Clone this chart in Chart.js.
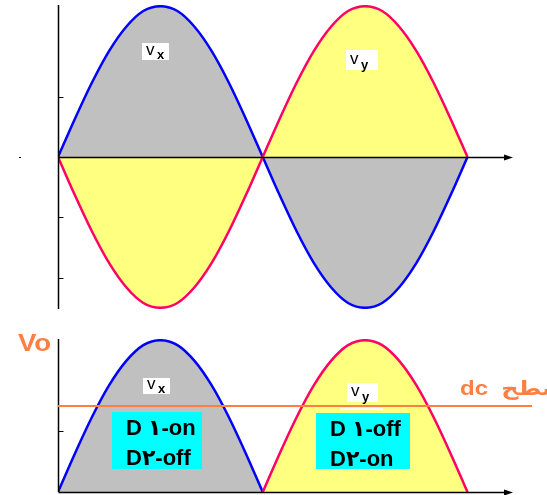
<!DOCTYPE html>
<html>
<head>
<meta charset="utf-8">
<script src="https://cdn.jsdelivr.net/npm/chart.js@4.4.0/dist/chart.umd.min.js"></script>
<style>
    html, body { margin: 0; padding: 0; background: #fff; }
    #wrap { position: relative; width: 547px; height: 495px; overflow: hidden; }
    #topBox { position: absolute; left: 0; top: 0; }
    #botBox { position: absolute; left: 0; top: 320px; }
</style>
</head>
<body>
<div id="wrap">
    <div id="topBox"><canvas id="topChart" width="547" height="320"></canvas></div>
    <div id="botBox"><canvas id="botChart" width="547" height="175"></canvas></div>
</div>
<script>
// Phase angle (degrees) of each sample
const angles = [0, 15, 30, 45, 60, 75, 90, 105, 120, 135, 150, 165, 180,
                195, 210, 225, 240, 255, 270, 285, 300, 315, 330, 345, 360];

// Top panel: secondary half-voltages
const vx = [0, 0.64, 1.24, 1.76, 2.16, 2.42, 2.5, 2.42, 2.16, 1.76, 1.24, 0.64, 0,
            -0.64, -1.24, -1.76, -2.16, -2.42, -2.5, -2.42, -2.16, -1.76, -1.24, -0.64, 0];
const vy = [0, -0.64, -1.24, -1.76, -2.16, -2.42, -2.5, -2.42, -2.16, -1.76, -1.24, -0.64, 0,
            0.64, 1.24, 1.76, 2.16, 2.42, 2.5, 2.42, 2.16, 1.76, 1.24, 0.64, 0];

// Bottom panel: output voltage, D1 conducting then D2 conducting
const voD1 = [0, 0.64, 1.24, 1.76, 2.16, 2.42, 2.5, 2.42, 2.16, 1.76, 1.24, 0.64, 0,
              null, null, null, null, null, null, null, null, null, null, null, null];
const voD2 = [null, null, null, null, null, null, null, null, null, null, null, null, 0,
              0.64, 1.24, 1.76, 2.16, 2.42, 2.5, 2.42, 2.16, 1.76, 1.24, 0.64, 0];

const dcLevel = 1.42;
const topTicks = [-2, -1, 1];
const botTicks = [1];

const BLUE = '#0000ff';
const PINK = '#ff0066';
const GRAY = '#c0c0c0';
const YELLOW = '#ffff80';
const CYAN = '#00ffff';
const ORANGE = '#ff7f40';
const BOT_OFFSET = 320;

function toPoints(values) {
    return angles.map((a, i) => ({ x: a, y: values[i] }));
}

function curve(label, values, line, fillColor) {
    return {
        label: label,
        data: toPoints(values),
        borderColor: line,
        backgroundColor: fillColor,
        borderWidth: 2.5,
        pointRadius: 0,
        cubicInterpolationMode: 'monotone',
        fill: { target: 'origin' }
    };
}

// white label box with "v" and a subscript letter
function subLabel(ctx, box, sub) {
    ctx.fillStyle = '#fff';
    ctx.fillRect(box[0], box[1], box[2], box[3]);
    ctx.fillStyle = '#000';
    ctx.textBaseline = 'alphabetic';
    ctx.textAlign = 'left';
    ctx.font = '17px "Liberation Sans", Arial, sans-serif';
    ctx.fillText('v', box[0] + 4, box[1] + box[3] * 0.7);
    ctx.font = 'bold 13px "Liberation Sans", Arial, sans-serif';
    ctx.fillText(sub, box[0] + 15, box[1] + box[3] - 1);
}

// stretched bold text (the original lettering is wider than Arial)
function wideText(ctx, text, x, y, font, stretch) {
    ctx.save();
    ctx.font = font;
    ctx.translate(x, y);
    ctx.scale(stretch, 1);
    ctx.fillText(text, 0, 0);
    ctx.restore();
}

function axesPlugin(ticks) {
    return {
        id: 'axesDecor',
        afterDatasetsDraw(chart) {
            const ctx = chart.ctx;
            const area = chart.chartArea;
            const xs = chart.scales.x;
            const ys = chart.scales.y;
            const x0 = Math.round(xs.getPixelForValue(0)) + 0.5;
            const y0 = Math.round(ys.getPixelForValue(0)) + 0.5;
            const xEnd = area.right;
            ctx.save();
            ctx.strokeStyle = '#000';
            ctx.fillStyle = '#000';
            ctx.lineWidth = 1.5;
            ctx.beginPath();
            ctx.moveTo(x0, area.top);
            ctx.lineTo(x0, Math.min(area.bottom, chart.height));
            ctx.stroke();
            ctx.beginPath();
            ctx.moveTo(x0, y0);
            ctx.lineTo(xEnd - 4, y0);
            ctx.stroke();
            ctx.beginPath();
            ctx.moveTo(xEnd, y0);
            ctx.lineTo(xEnd - 9, y0 - 3);
            ctx.lineTo(xEnd - 9, y0 + 3);
            ctx.closePath();
            ctx.fill();
            ctx.lineWidth = 1;
            ticks.forEach(v => {
                const y = Math.round(ys.getPixelForValue(v)) + 0.5;
                ctx.beginPath();
                ctx.moveTo(x0, y);
                ctx.lineTo(x0 + 5, y);
                ctx.stroke();
            });
            ctx.restore();
        }
    };
}

const topLabels = {
    id: 'topLabels',
    afterDraw(chart) {
        const ctx = chart.ctx;
        ctx.save();
        subLabel(ctx, [142, 43, 27, 17], 'x');
        subLabel(ctx, [346, 50, 32, 20], 'y');
        ctx.fillStyle = '#000';
        ctx.fillRect(19, 157, 2, 1);
        ctx.restore();
    }
};

const botLabels = {
    id: 'botLabels',
    afterDraw(chart) {
        const ctx = chart.ctx;
        const ys = chart.scales.y;
        const off = BOT_OFFSET;
        ctx.save();
        // dc level line
        const yd = Math.round(ys.getPixelForValue(dcLevel));
        ctx.strokeStyle = ORANGE;
        ctx.lineWidth = 2;
        ctx.beginPath();
        ctx.moveTo(58, yd);
        ctx.lineTo(532, yd);
        ctx.stroke();

        ctx.fillStyle = ORANGE;
        ctx.textAlign = 'left';
        ctx.textBaseline = 'alphabetic';
        wideText(ctx, 'Vo', 18, 351 - off, 'bold 23px "Liberation Sans", Arial, sans-serif', 1.2);
        wideText(ctx, 'dc  سطح', 460, 395 - off, 'bold 20px "Liberation Sans", "DejaVu Sans", sans-serif', 1.2);

        subLabel(ctx, [143, 378 - off, 27, 16], 'x');
        subLabel(ctx, [347, 383 - off, 31, 19], 'y');
        ctx.fillStyle = '#fff';
        ctx.fillRect(340, 408 - off, 43, 2);

        // diode state boxes
        ctx.fillStyle = CYAN;
        ctx.fillRect(112, 412 - off, 90, 57);
        ctx.fillRect(316, 413 - off, 94, 56);
        ctx.fillStyle = '#000';
        ctx.font = 'bold 22px "Liberation Sans", "DejaVu Sans", sans-serif';
        ctx.fillText('D ١-on', 126, 435 - off);
        ctx.fillText('D٢-off', 126, 465 - off);
        ctx.fillText('D ١-off', 330, 436 - off);
        ctx.fillText('D٢-on', 330, 466 - off);
        ctx.restore();
    }
};

const topChart = new Chart(document.getElementById('topChart'), {
    type: 'line',
    data: {
        datasets: [
            curve('vy', vy, PINK, YELLOW),
            curve('vx', vx, BLUE, GRAY)
        ]
    },
    options: {
        responsive: false,
        animation: false,
        layout: { padding: { left: 58, right: 34, top: 5, bottom: 11 } },
        scales: {
            x: { type: 'linear', min: 0, max: 400, display: false },
            y: { min: -2.52, max: 2.52, display: false }
        },
        plugins: { legend: { display: false }, tooltip: { enabled: false } }
    },
    plugins: [axesPlugin(topTicks), topLabels]
});

const botChart = new Chart(document.getElementById('botChart'), {
    type: 'line',
    data: {
        datasets: [
            curve('vy', voD2, PINK, YELLOW),
            curve('vx', voD1, BLUE, GRAY)
        ]
    },
    options: {
        responsive: false,
        animation: false,
        layout: { padding: { left: 58, right: 34, top: 19, bottom: 3 } },
        scales: {
            x: { type: 'linear', min: 0, max: 400, display: false },
            y: { min: 0, max: 2.52, display: false }
        },
        plugins: { legend: { display: false }, tooltip: { enabled: false } }
    },
    plugins: [axesPlugin(botTicks), botLabels]
});
</script>
</body>
</html>
